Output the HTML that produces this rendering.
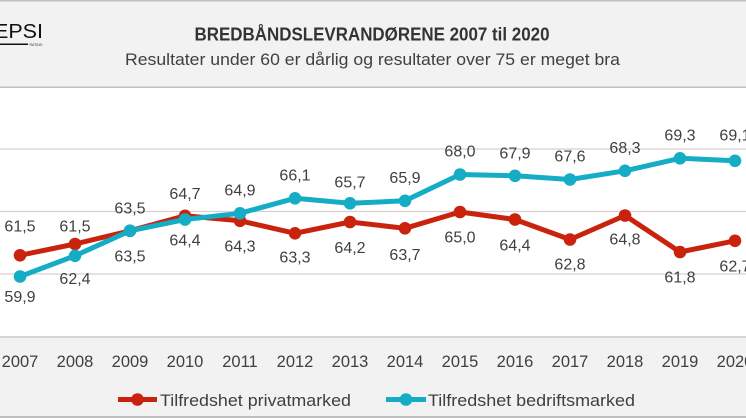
<!DOCTYPE html>
<html><head><meta charset="utf-8"><style>
html,body{margin:0;padding:0;background:#fff;}
svg{display:block;}
text{font-family:"Liberation Sans",sans-serif;fill:#404040;}
</style></head><body>
<svg width="746" height="419" viewBox="0 0 746 419" xmlns="http://www.w3.org/2000/svg">
<rect x="0" y="0" width="746" height="419" fill="#ffffff"/>
<!-- header -->
<rect x="0" y="0" width="746" height="88" fill="#f2f2f2"/>
<rect x="0" y="0" width="746" height="1.5" fill="#bfbfbf"/>
<rect x="0" y="86.5" width="746" height="1.5" fill="#bfbfbf"/>
<!-- logo -->
<text x="-6" y="38" font-size="20" textLength="49" lengthAdjust="spacingAndGlyphs" style="fill:#111">EPSI</text>
<rect x="0" y="43.5" width="28" height="1.5" fill="#111"/>
<text x="29.5" y="46" font-size="4" textLength="13" lengthAdjust="spacingAndGlyphs" style="fill:#333">RATING</text>
<text x="372" y="40.5" font-size="18" font-weight="bold" text-anchor="middle" textLength="355" lengthAdjust="spacingAndGlyphs" style="fill:#333">BREDBÅNDSLEVRANDØRENE 2007 til 2020</text>
<text x="372.5" y="65" font-size="17" text-anchor="middle" textLength="495" lengthAdjust="spacingAndGlyphs">Resultater under 60 er dårlig og resultater over 75 er meget bra</text>
<!-- legend/axis area -->
<rect x="0" y="337" width="746" height="80" fill="#f2f2f2"/>
<rect x="0" y="416" width="746" height="3" fill="#bfbfbf"/>
<rect x="0" y="418" width="746" height="1" fill="#ffffff"/>
<!-- gridlines -->
<g stroke="#dccfcf" stroke-width="1.2">
<line x1="0" y1="149" x2="746" y2="149"/>
<line x1="0" y1="211.5" x2="746" y2="211.5"/>
<line x1="0" y1="274" x2="746" y2="274"/>
</g>
<rect x="0" y="336" width="746" height="2" fill="#dcd3d3"/>
<!-- axis labels -->
<g font-size="16.5" text-anchor="middle">
<text x="20" y="367">2007</text><text x="75" y="367">2008</text><text x="130" y="367">2009</text>
<text x="185" y="367">2010</text><text x="240" y="367">2011</text><text x="295" y="367">2012</text>
<text x="350" y="367">2013</text><text x="405" y="367">2014</text><text x="460" y="367">2015</text>
<text x="515" y="367">2016</text><text x="570" y="367">2017</text><text x="625" y="367">2018</text>
<text x="680" y="367">2019</text><text x="735" y="367">2020</text>
</g>
<!-- red series -->
<polyline fill="none" stroke="#c9230e" stroke-width="5" stroke-linejoin="round"
points="20,255.3 75,244 130,230.8 185,215.8 240,220.8 295,233.3 350,222 405,228.3 460,212 515,219.5 570,239.5 625,215.5 680,252 735,240.8"/>
<g fill="#c9230e">
<circle cx="20" cy="255.3" r="6.3"/><circle cx="75" cy="244" r="6.3"/><circle cx="130" cy="230.8" r="6.3"/>
<circle cx="185" cy="215.8" r="6.3"/><circle cx="240" cy="220.8" r="6.3"/><circle cx="295" cy="233.3" r="6.3"/>
<circle cx="350" cy="222" r="6.3"/><circle cx="405" cy="228.3" r="6.3"/><circle cx="460" cy="212" r="6.3"/>
<circle cx="515" cy="219.5" r="6.3"/><circle cx="570" cy="239.5" r="6.3"/><circle cx="625" cy="215.5" r="6.3"/>
<circle cx="680" cy="252" r="6.3"/><circle cx="735" cy="240.8" r="6.3"/>
</g>
<!-- blue series -->
<polyline fill="none" stroke="#14adc5" stroke-width="5" stroke-linejoin="round"
points="20,276.5 75,255.8 130,230.8 185,219.5 240,213.3 295,198.3 350,203.3 405,200.8 460,174.5 515,175.8 570,179.5 625,170.8 680,158.3 735,160.8"/>
<g fill="#14adc5">
<circle cx="20" cy="276.5" r="6.3"/><circle cx="75" cy="255.8" r="6.3"/><circle cx="130" cy="230.8" r="6.3"/>
<circle cx="185" cy="219.5" r="6.3"/><circle cx="240" cy="213.3" r="6.3"/><circle cx="295" cy="198.3" r="6.3"/>
<circle cx="350" cy="203.3" r="6.3"/><circle cx="405" cy="200.8" r="6.3"/><circle cx="460" cy="174.5" r="6.3"/>
<circle cx="515" cy="175.8" r="6.3"/><circle cx="570" cy="179.5" r="6.3"/><circle cx="625" cy="170.8" r="6.3"/>
<circle cx="680" cy="158.3" r="6.3"/><circle cx="735" cy="160.8" r="6.3"/>
</g>
<!-- data labels -->
<g font-size="16" text-anchor="middle">
<text x="20" y="231.7">61,5</text>
<text x="75" y="231.7">61,5</text>
<text x="130" y="213.4">63,5</text>
<text x="130" y="261.4">63,5</text>
<text x="185" y="199">64,7</text>
<text x="185" y="245.7">64,4</text>
<text x="240" y="195.7">64,9</text>
<text x="240" y="251.7">64,3</text>
<text x="295" y="180.7">66,1</text>
<text x="295" y="262.4">63,3</text>
<text x="350" y="187.4">65,7</text>
<text x="350" y="253">64,2</text>
<text x="75" y="284">62,4</text>
<text x="20" y="302">59,9</text>
<text x="405" y="183">65,9</text>
<text x="405" y="260">63,7</text>
<text x="460" y="156.4">68,0</text>
<text x="460" y="242.4">65,0</text>
<text x="515" y="158.4">67,9</text>
<text x="515" y="250.7">64,4</text>
<text x="570" y="161.7">67,6</text>
<text x="570" y="269.7">62,8</text>
<text x="625" y="153">68,3</text>
<text x="625" y="244.7">64,8</text>
<text x="680" y="140.7">69,3</text>
<text x="680" y="282.4">61,8</text>
<text x="735" y="140.7">69,1</text>
<text x="735" y="271.7">62,7</text>
</g>
<!-- legend -->
<line x1="118" y1="399.5" x2="157" y2="399.5" stroke="#c9230e" stroke-width="5"/>
<circle cx="137.5" cy="399.5" r="6.3" fill="#c9230e"/>
<text x="160" y="406" font-size="16.5" textLength="191" lengthAdjust="spacingAndGlyphs">Tilfredshet privatmarked</text>
<line x1="386" y1="399.5" x2="426" y2="399.5" stroke="#14adc5" stroke-width="5"/>
<circle cx="406" cy="399.5" r="6.3" fill="#14adc5"/>
<text x="428" y="406" font-size="16.5" textLength="207" lengthAdjust="spacingAndGlyphs">Tilfredshet bedriftsmarked</text>
</svg>
</body></html>
